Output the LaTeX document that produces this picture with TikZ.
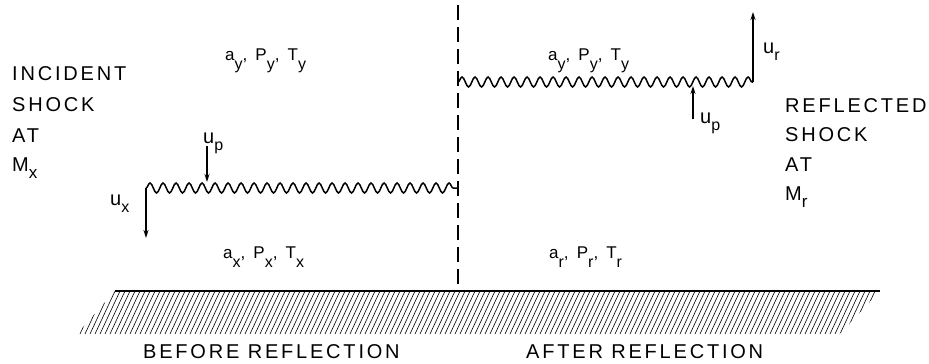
\documentclass[tikz,border=0pt]{standalone}
\usepackage{fontspec}
\setmainfont{Liberation Sans}
\newfontfamily\capsfont[LetterSpace=14]{Liberation Sans}
\newfontfamily\statefont[LetterSpace=20]{Liberation Sans}
\usetikzlibrary{decorations.pathmorphing,arrows.meta}
\newcommand\lowsub[1]{\raisebox{-9pt}{\fontsize{16}{16}\selectfont #1}}
\newcommand\velsub[1]{\raisebox{-7pt}{\fontsize{16}{16}\selectfont #1}}
\newcommand\capsub[1]{\raisebox{-7pt}{\fontsize{17}{17}\selectfont #1}}
\tikzset{
  shock/.style={line width=1.5pt, decorate, decoration={snake, segment length=13pt, amplitude=5pt}},
  arr/.style={line width=1.3pt, -{Stealth[length=8pt,width=5pt]}},
  caps/.style={anchor=base west, inner sep=0pt, font=\capsfont\fontsize{20}{20}\selectfont},
  state/.style={anchor=base west, inner sep=0pt, font=\statefont\fontsize{17}{17}\selectfont},
  vel/.style={inner sep=0pt, anchor=base west, font=\fontsize{20}{20}\selectfont},
  bottomlab/.style={anchor=base west, inner sep=0pt, font=\capsfont\fontsize{20}{20}\selectfont},
}
\begin{document}
\begin{tikzpicture}[x=1pt,y=-1pt]
\useasboundingbox (0,0) rectangle (929,364);
% ground and hatching
\coordinate (G0) at (115,291);
\coordinate (G1) at (880,291);
\begin{scope}
  \clip (115,291) -- (880,291) -- (840,334) -- (77,334) -- cycle;
  \foreach \x in {40,45,...,880} {
    \draw[line width=0.6pt] (\x,334) -- (\x+20,291);
  }
\end{scope}
\draw[line width=2.2pt] (G0) -- (G1);
% wall / dashed line
\coordinate (W0) at (458,5);
\coordinate (W1) at (458,291);
\draw[line width=2.6pt, dash pattern=on 15pt off 7pt] (W0) -- (W1);
% incident shock
\coordinate (L0) at (146,188);
\coordinate (L1) at (458,188);
\draw[shock] (L0) -- (L1);
\coordinate (uxtip) at (146,238);
\draw[arr] (L0) -- (uxtip);
\coordinate (upL0) at (207,146);
\coordinate (upL1) at (207,182);
\draw[arr] (upL0) -- (upL1);
% reflected shock
\coordinate (R0) at (458,82);
\coordinate (R1) at (753,82);
\draw[shock] (R0) -- (R1);
\coordinate (urtip) at (753,12);
\draw[arr] (R1) -- (urtip);
\coordinate (upR0) at (693,119);
\coordinate (upR1) at (693,86);
\draw[arr] (upR0) -- (upR1);
% velocity labels
\node[vel] (uxlab) at (110,205) {u\velsub{x}};
\node[vel] (upLlab) at (203,143) {u\velsub{p}};
\node[vel] (urlab) at (763,53) {u\velsub{r}};
\node[vel] (upRlab) at (700,123) {u\velsub{p}};
% state labels
\node[state] (ayL) at (225,60) {a\lowsub{y}, P\lowsub{y}, T\lowsub{y}};
\node[state] (ayR) at (548,60) {a\lowsub{y}, P\lowsub{y}, T\lowsub{y}};
\node[state] (ax) at (223,258) {a\lowsub{x}, P\lowsub{x}, T\lowsub{x}};
\node[state] (ar) at (549,258) {a\lowsub{r}, P\lowsub{r}, T\lowsub{r}};
% side texts
\node[caps] (inc1) at (12,80) {INCIDENT};
\node[caps] (inc2) at (12,111) {SHOCK};
\node[caps] (inc3) at (12,142) {AT};
\node[caps] (inc4) at (12,171) {M\capsub{x}};
\node[caps] (ref1) at (785,112) {REFLECTED};
\node[caps] (ref2) at (785,141) {SHOCK};
\node[caps] (ref3) at (785,171) {AT};
\node[caps] (ref4) at (785,200) {M\capsub{r}};
% bottom labels
\node[bottomlab] (before) at (143,358) {BEFORE REFLECTION};
\node[bottomlab] (after) at (526,358) {AFTER REFLECTION};
\end{tikzpicture}
\end{document}
